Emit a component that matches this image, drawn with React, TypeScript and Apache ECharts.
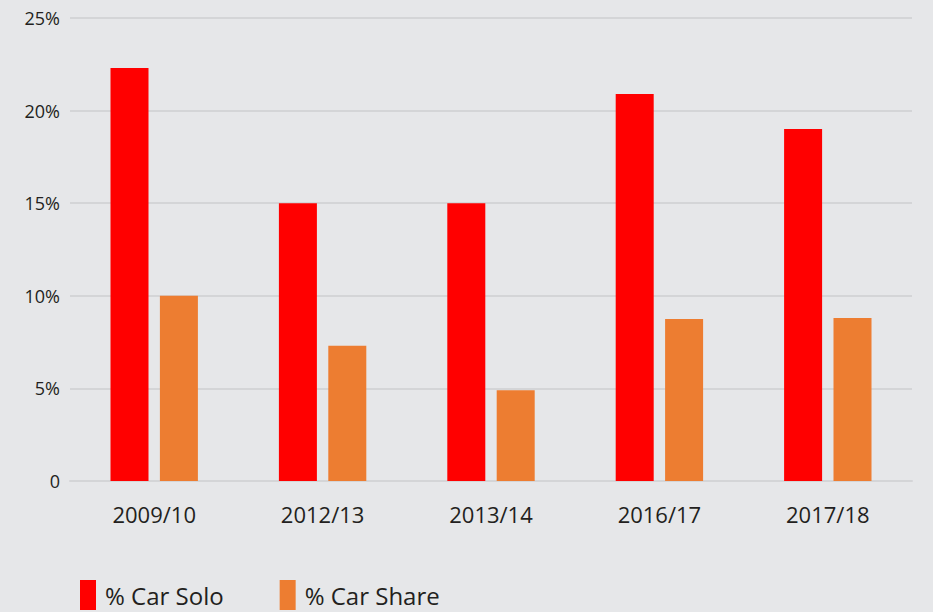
import React, { useEffect, useRef } from "react";
import * as echarts from "echarts";

const categories = ["2009/10", "2012/13", "2013/14", "2016/17", "2017/18"];
const carSolo = [22.3, 15.0, 15.0, 20.9, 19.0];
const carShare = [10.0, 7.3, 4.9, 8.75, 8.8];
const seriesNames = ["% Car Solo", "% Car Share"];
const colors = ["#ff0000", "#ed7d31"];

export default function App() {
  const ref = useRef<HTMLDivElement>(null);
  useEffect(() => {
    if (!ref.current) return;
    const chart = echarts.init(ref.current, null, { renderer: "svg" });
    const font = "'Open Sans', 'Noto Sans', sans-serif";
    chart.setOption({
      animation: false,
      backgroundColor: "#e6e7e9",
      textStyle: { fontFamily: font },
      grid: { left: 70, right: 21, top: 18, bottom: 131 },
      legend: {
        left: 80,
        top: 580,
        padding: 0,
        itemWidth: 16,
        itemHeight: 30,
        itemGap: 56,
        icon: "rect",
        data: seriesNames,
        textStyle: { fontSize: 24, color: "#231f20", fontFamily: font, padding: [0, 0, 0, 4] },
      },
      xAxis: {
        type: "category",
        data: categories,
        axisTick: { show: false },
        axisLine: { show: true, lineStyle: { color: "#d4d5d7", width: 2 } },
        axisLabel: { fontSize: 22, color: "#231f20", margin: 22, fontFamily: font },
      },
      yAxis: {
        type: "value",
        min: 0,
        max: 25,
        interval: 5,
        axisLine: { show: false },
        axisTick: { show: false },
        splitLine: { lineStyle: { color: "#d4d5d7", width: 2 } },
        axisLabel: {
          fontSize: 18,
          color: "#231f20",
          margin: 10,
          fontFamily: font,
          formatter: (v: number) => (v === 0 ? "0" : v + "%"),
        },
      },
      series: [
        {
          name: seriesNames[0],
          type: "bar",
          data: carSolo,
          barWidth: 38,
          barGap: "30%",
          itemStyle: { color: colors[0] },
        },
        {
          name: seriesNames[1],
          type: "bar",
          data: carShare,
          barWidth: 38,
          barGap: "30%",
          itemStyle: { color: colors[1] },
        },
      ],
    });
    return () => chart.dispose();
  }, []);
  return <div ref={ref} style={{ width: 933, height: 612, position: "absolute", left: 0, top: 0 }} />;
}
